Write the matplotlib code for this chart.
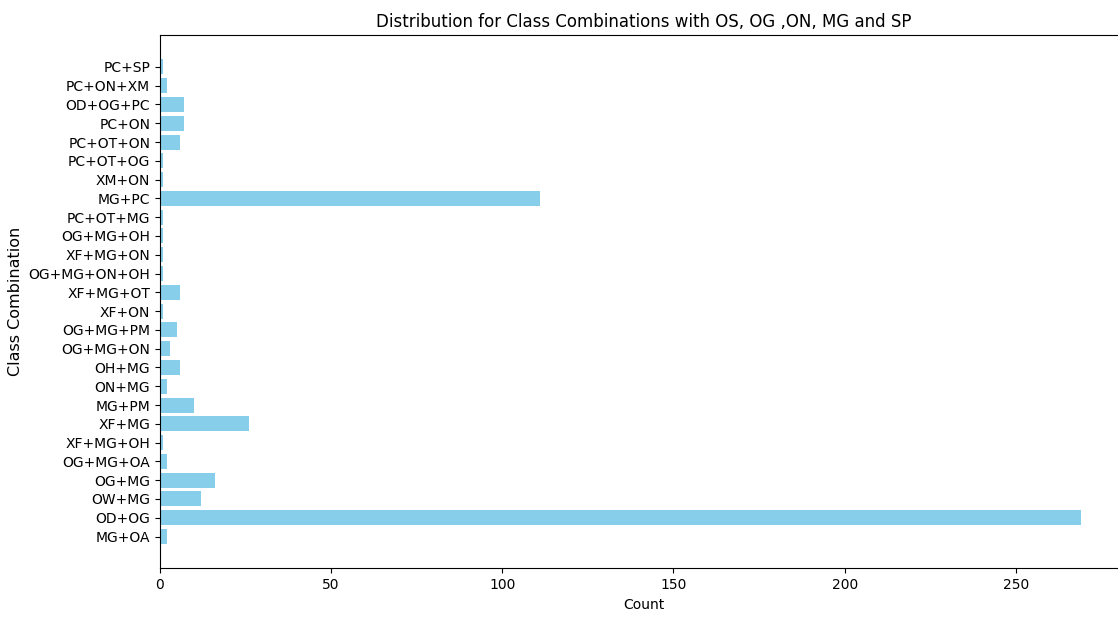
import matplotlib
matplotlib.use("Agg")
import matplotlib.pyplot as plt

# class combinations, bottom to top
combos = [
    "MG+OA", "OD+OG", "OW+MG", "OG+MG", "OG+MG+OA", "XF+MG+OH", "XF+MG",
    "MG+PM", "ON+MG", "OH+MG", "OG+MG+ON", "OG+MG+PM", "XF+ON", "XF+MG+OT",
    "OG+MG+ON+OH", "XF+MG+ON", "OG+MG+OH", "PC+OT+MG", "MG+PC", "XM+ON",
    "PC+OT+OG", "PC+OT+ON", "PC+ON", "OD+OG+PC", "PC+ON+XM", "PC+SP",
]
counts = [
    2, 269, 12, 16, 2, 1, 26,
    10, 2, 6, 3, 5, 1, 6,
    1, 1, 1, 1, 111, 1,
    1, 6, 7, 7, 2, 1,
]

fig, ax = plt.subplots(figsize=(11.18, 6.17), dpi=100)
# the original was cropped: axes run slightly past the right edge
fig.subplots_adjust(left=0.143, right=1.008, bottom=0.079, top=0.943)

ax.barh(combos, counts, color="skyblue")
ax.set_xlabel("Count")
ax.set_ylabel("Class Combination", fontsize=11.5)
ax.set_title("Distribution for Class Combinations with OS, OG ,ON, MG and SP", fontsize=12)

fig.savefig("out.png", dpi=100)
